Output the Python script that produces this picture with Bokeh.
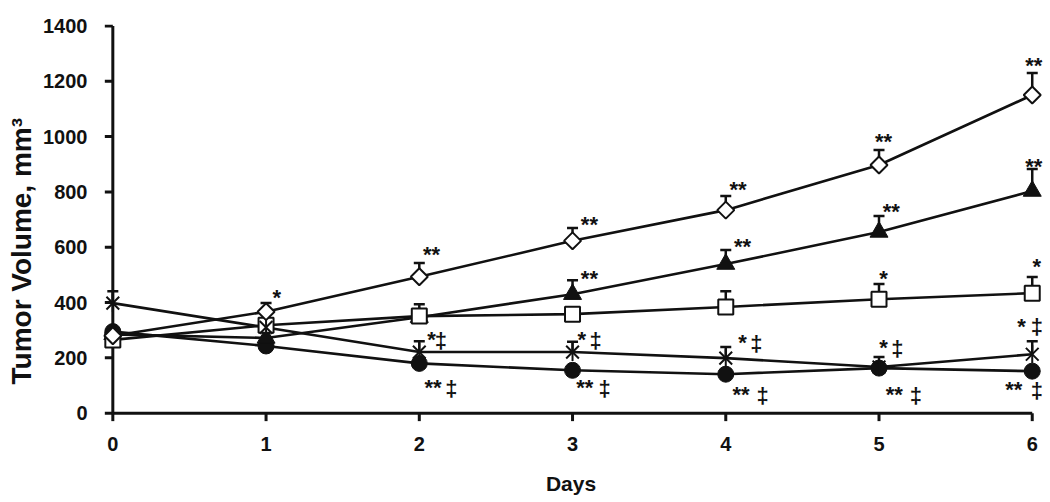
import math
from bokeh.plotting import figure
from bokeh.models import FixedTicker, Range1d, Title
from bokeh.core.properties import value
from bokeh.embed import file_html
from bokeh.resources import INLINE

# ---- data ----
days = [0, 1, 2, 3, 4, 5, 6]
diamond_vals = [280, 367, 493, 623, 734, 897, 1150]
diamond_err = [None, 398, 543, 669, 785, 951, 1230]
triangle_vals = [285, 272, 347, 430, 539, 655, 803]
triangle_err = [None, None, 394, 481, 590, 713, 883]
square_vals = [265, 318, 351, 358, 384, 412, 434]
square_err = [None, None, None, None, 441, 467, 492]
star_vals = [398, 310, 221, 221, 199, 167, 213]
star_err = [441, None, 260, 258, 239, 203, 260]
circle_vals = [295, 243, 180, 155, 141, 163, 152]

x_ticks = [0, 1, 2, 3, 4, 5, 6]
y_ticks = [0, 200, 400, 600, 800, 1000, 1200, 1400]

# significance labels: day position, baseline value, text
ann_x = [1.07, 2.08, 3.11, 4.08, 5.03, 6.01,
         3.11, 4.11, 5.08, 6.01,
         5.03, 6.03,
         2.08, 2.14, 3.06, 3.15, 4.11, 4.20, 5.03, 5.12, 5.93, 6.03,
         2.09, 2.21, 3.08, 3.21, 4.10, 4.24, 5.10, 5.24, 5.88, 6.03]
ann_y = [394, 550, 655, 785, 955, 1230,
         463, 579, 705, 868,
         463, 506,
         242, 239, 242, 239, 232, 228, 213, 210, 289, 289,
         69, 65, 69, 65, 43, 40, 43, 40, 61, 58]
ann_text = ["*", "**", "**", "**", "**", "**",
            "**", "**", "**", "**",
            "*", "*",
            "*", "\u2021", "*", "\u2021", "*", "\u2021", "*", "\u2021", "*", "\u2021",
            "**", "\u2021", "**", "\u2021", "**", "\u2021", "**", "\u2021", "**", "\u2021"]

y_title = "Tumor Volume, mm\u00b3"
x_title = "Days"

FONT = "Liberation Sans"
BLACK = "#111111"

p = figure(frame_width=947, frame_height=397,
           x_range=Range1d(-0.1, 6.08), y_range=Range1d(-30, 1405),
           output_backend="svg", toolbar_location=None,
           min_border_left=90, min_border_right=0, min_border_top=24, min_border_bottom=66)
p.outline_line_color = None
p.xgrid.visible = False
p.ygrid.visible = False

for ax, ticks in ((p.xaxis, x_ticks), (p.yaxis, y_ticks)):
    ax.ticker = FixedTicker(ticks=ticks)
    ax.axis_line_color = None
    ax.major_tick_line_color = None
    ax.minor_tick_line_color = None
    ax.major_label_text_font = FONT
    ax.major_label_text_font_style = "bold"
    ax.major_label_text_font_size = "20px"
    ax.major_label_text_color = BLACK
    ax.axis_label_text_font = FONT
    ax.axis_label_text_font_style = "bold"
    ax.axis_label_text_color = BLACK

p.xaxis.major_label_standoff = 9
p.xaxis.axis_label = x_title
p.xaxis.axis_label_text_font_size = "21px"
p.xaxis.axis_label_standoff = 18
p.yaxis.major_label_standoff = 4

# vertical axis title, a little below the frame centre as in the reference
p.add_layout(Title(text=y_title, align="left", offset=37, standoff=7,
                   text_font=FONT, text_font_style="bold", text_font_size="28px",
                   text_color=BLACK), "left")

# axis lines and tick marks
p.segment(x0=[x_ticks[0], x_ticks[0]], y0=[y_ticks[0], y_ticks[0]],
          x1=[x_ticks[-1], x_ticks[0]], y1=[y_ticks[0], y_ticks[-1]],
          line_color=BLACK, line_width=3)
p.ray(x=[x_ticks[0]] * len(y_ticks), y=y_ticks, length=8, length_units="screen",
      angle=math.pi, line_color=BLACK, line_width=3)
p.ray(x=x_ticks, y=[y_ticks[0]] * len(x_ticks), length=8, length_units="screen",
      angle=-math.pi / 2, line_color=BLACK, line_width=3)

series = [circle_vals, triangle_vals, square_vals, star_vals, diamond_vals]
for vals in series:
    p.line(days, vals, line_color=BLACK, line_width=2.6)

def err_bars(vals, tops):
    xs = [d for d, t in zip(days, tops) if t is not None]
    y0 = [v for v, t in zip(vals, tops) if t is not None]
    y1 = [t for t in tops if t is not None]
    p.segment(x0=xs, y0=y0, x1=xs, y1=y1, line_color=BLACK, line_width=2.5)
    p.scatter(xs, y1, marker="dash", size=11, line_color=BLACK, line_width=2.5)

# circles
p.scatter(days, circle_vals, marker="circle", size=16, fill_color=BLACK, line_color=BLACK)
# triangles
err_bars(triangle_vals, triangle_err)
p.scatter(days, triangle_vals, marker="triangle", size=18, fill_color=BLACK, line_color=BLACK)
# squares
err_bars(square_vals, square_err)
p.scatter(days, square_vals, marker="square", size=15, fill_color="white",
          line_color=BLACK, line_width=2)
# stars
err_bars(star_vals, star_err)
p.scatter(days, star_vals, marker="x", size=18, line_color=BLACK, line_width=2)
p.scatter(days, star_vals, marker="dash", angle=math.pi / 2, size=18,
          line_color=BLACK, line_width=2)
# diamonds
err_bars(diamond_vals, diamond_err)
p.scatter(days, diamond_vals, marker="square", angle=math.pi / 4, size=12,
          fill_color="white", line_color=BLACK, line_width=2)

p.text(x=ann_x, y=ann_y, text=ann_text, text_font=value(FONT),
       text_font_size="22px", text_font_style="bold", text_color=BLACK,
       text_align="center", text_baseline="alphabetic", y_offset=-7)

open("out.html", "w").write(file_html(p, INLINE))
